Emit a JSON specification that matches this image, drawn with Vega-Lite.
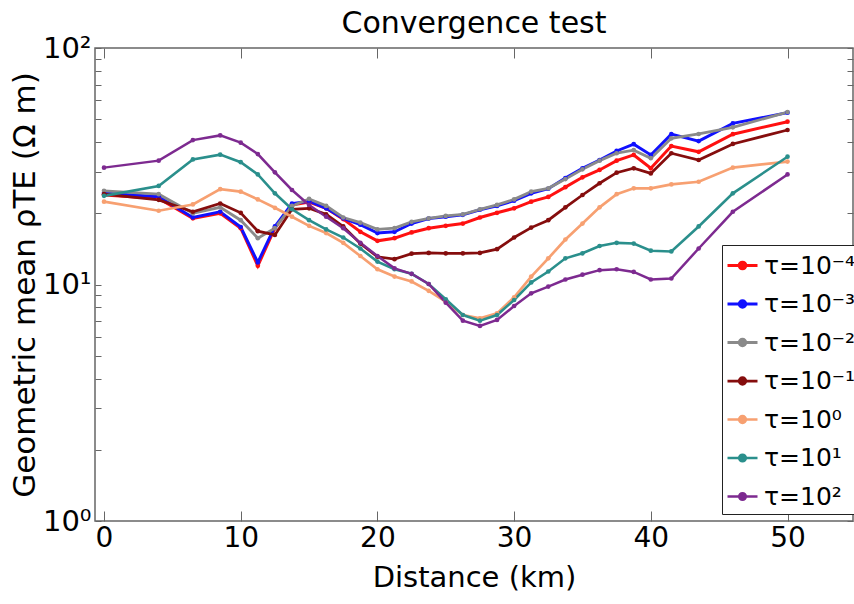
{
  "$schema": "https://vega.github.io/schema/vega-lite/v6.json",
  "width": 758,
  "height": 473,
  "autosize": "none",
  "padding": {"left": 95, "top": 48, "right": 1, "bottom": 83},
  "background": "white",
  "config": {
    "font": "DejaVu Sans",
    "view": {"stroke": "#666666", "strokeWidth": 1.5}
  },
  "title": {"text": "Convergence test", "fontSize": 30, "fontWeight": "normal", "color": "black", "offset": -5, "anchor": "middle"},
  "data": {
    "values": [
      {"d": 0, "τ=10⁻⁴": 23.9, "τ=10⁻³": 24.4, "τ=10⁻²": 24.9, "τ=10⁻¹": 24.1, "τ=10⁰": 22.4, "τ=10¹": 23.7, "τ=10²": 31.2},
      {"d": 4, "τ=10⁻⁴": 23.1, "τ=10⁻³": 23.5, "τ=10⁻²": 24.1, "τ=10⁻¹": 22.8, "τ=10⁰": 20.5, "τ=10¹": 26.1, "τ=10²": 33.4},
      {"d": 6.5, "τ=10⁻⁴": 19.05, "τ=10⁻³": 19.2, "τ=10⁻²": 20.0, "τ=10⁻¹": 20.3, "τ=10⁰": 21.8, "τ=10¹": 33.8, "τ=10²": 40.8},
      {"d": 8.5, "τ=10⁻⁴": 20.0, "τ=10⁻³": 20.3, "τ=10⁻²": 21.2, "τ=10⁻¹": 22.0, "τ=10⁰": 25.3, "τ=10¹": 35.4, "τ=10²": 42.7},
      {"d": 10, "τ=10⁻⁴": 17.3, "τ=10⁻³": 17.5, "τ=10⁻²": 18.7, "τ=10⁻¹": 20.1, "τ=10⁰": 24.7, "τ=10¹": 32.9, "τ=10²": 39.8},
      {"d": 11.25, "τ=10⁻⁴": 12.0, "τ=10⁻³": 12.4, "τ=10⁻²": 15.7, "τ=10⁻¹": 16.8, "τ=10⁰": 22.9, "τ=10¹": 29.2, "τ=10²": 35.6},
      {"d": 12.5, "τ=10⁻⁴": 17.3, "τ=10⁻³": 17.6, "τ=10⁻²": 17.3, "τ=10⁻¹": 16.2, "τ=10⁰": 21.1, "τ=10¹": 24.3, "τ=10²": 29.8},
      {"d": 13.75, "τ=10⁻⁴": 21.7, "τ=10⁻³": 22.0, "τ=10⁻²": 21.5, "τ=10⁻¹": 20.8, "τ=10⁰": 19.35, "τ=10¹": 20.8, "τ=10²": 25.1},
      {"d": 15, "τ=10⁻⁴": 22.3, "τ=10⁻³": 22.5, "τ=10⁻²": 23.0, "τ=10⁻¹": 21.0, "τ=10⁰": 17.7, "τ=10¹": 18.7, "τ=10²": 21.7},
      {"d": 16.25, "τ=10⁻⁴": 21.0, "τ=10⁻³": 21.0, "τ=10⁻²": 21.5, "τ=10⁻¹": 19.8, "τ=10⁰": 16.5, "τ=10¹": 17.1, "τ=10²": 19.35},
      {"d": 17.5, "τ=10⁻⁴": 18.9, "τ=10⁻³": 19.05, "τ=10⁻²": 19.2, "τ=10⁻¹": 17.6, "τ=10⁰": 15.0, "τ=10¹": 15.8, "τ=10²": 17.3},
      {"d": 18.75, "τ=10⁻⁴": 16.7, "τ=10⁻³": 17.9, "τ=10⁻²": 18.25, "τ=10⁻¹": 14.9, "τ=10⁰": 13.2, "τ=10¹": 14.2, "τ=10²": 15.0},
      {"d": 20, "τ=10⁻⁴": 15.3, "τ=10⁻³": 16.5, "τ=10⁻²": 17.1, "τ=10⁻¹": 13.1, "τ=10⁰": 11.6, "τ=10¹": 12.5, "τ=10²": 13.2},
      {"d": 21.25, "τ=10⁻⁴": 15.7, "τ=10⁻³": 16.7, "τ=10⁻²": 17.3, "τ=10⁻¹": 12.8, "τ=10⁰": 10.8, "τ=10¹": 11.6, "τ=10²": 11.7},
      {"d": 22.5, "τ=10⁻⁴": 16.6, "τ=10⁻³": 18.1, "τ=10⁻²": 18.4, "τ=10⁻¹": 13.5, "τ=10⁰": 10.3, "τ=10¹": 11.1, "τ=10²": 11.1},
      {"d": 23.75, "τ=10⁻⁴": 17.3, "τ=10⁻³": 19.0, "τ=10⁻²": 19.05, "τ=10⁻¹": 13.6, "τ=10⁰": 9.4, "τ=10¹": 10.05, "τ=10²": 10.05},
      {"d": 25, "τ=10⁻⁴": 17.7, "τ=10⁻³": 19.35, "τ=10⁻²": 19.5, "τ=10⁻¹": 13.55, "τ=10⁰": 8.46, "τ=10¹": 8.66, "τ=10²": 8.38},
      {"d": 26.25, "τ=10⁻⁴": 18.1, "τ=10⁻³": 19.7, "τ=10⁻²": 19.8, "τ=10⁻¹": 13.55, "τ=10⁰": 7.43, "τ=10¹": 7.43, "τ=10²": 7.03},
      {"d": 27.5, "τ=10⁻⁴": 19.2, "τ=10⁻³": 20.7, "τ=10⁻²": 20.8, "τ=10⁻¹": 13.6, "τ=10⁰": 7.2, "τ=10¹": 7.03, "τ=10²": 6.68},
      {"d": 28.75, "τ=10⁻⁴": 20.1, "τ=10⁻³": 21.5, "τ=10⁻²": 21.7, "τ=10⁻¹": 14.1, "τ=10⁰": 7.55, "τ=10¹": 7.43, "τ=10²": 7.08},
      {"d": 30, "τ=10⁻⁴": 21.0, "τ=10⁻³": 22.6, "τ=10⁻²": 22.9, "τ=10⁻¹": 15.8, "τ=10⁰": 8.83, "τ=10¹": 8.6, "τ=10²": 8.11},
      {"d": 31.25, "τ=10⁻⁴": 22.4, "τ=10⁻³": 24.3, "τ=10⁻²": 24.7, "τ=10⁻¹": 17.4, "τ=10⁰": 10.8, "τ=10¹": 10.2, "τ=10²": 9.18},
      {"d": 32.5, "τ=10⁻⁴": 23.45, "τ=10⁻³": 25.4, "τ=10⁻²": 25.5, "τ=10⁻¹": 18.7, "τ=10⁰": 12.9, "τ=10¹": 11.35, "τ=10²": 9.8},
      {"d": 33.75, "τ=10⁻⁴": 25.8, "τ=10⁻³": 28.2, "τ=10⁻²": 27.9, "τ=10⁻¹": 21.2, "τ=10⁰": 15.5, "τ=10¹": 12.9, "τ=10²": 10.5},
      {"d": 35, "τ=10⁻⁴": 28.4, "τ=10⁻³": 31.0, "τ=10⁻²": 30.7, "τ=10⁻¹": 23.9, "τ=10⁰": 18.1, "τ=10¹": 13.55, "τ=10²": 11.0},
      {"d": 36.25, "τ=10⁻⁴": 30.5, "τ=10⁻³": 33.6, "τ=10⁻²": 33.4, "τ=10⁻¹": 26.8, "τ=10⁰": 21.2, "τ=10¹": 14.55, "τ=10²": 11.5},
      {"d": 37.5, "τ=10⁻⁴": 33.4, "τ=10⁻³": 36.7, "τ=10⁻²": 35.9, "τ=10⁻¹": 29.7, "τ=10⁰": 24.1, "τ=10¹": 15.0, "τ=10²": 11.6},
      {"d": 38.75, "τ=10⁻⁴": 35.3, "τ=10⁻³": 39.2, "τ=10⁻²": 37.0, "τ=10⁻¹": 31.0, "τ=10⁰": 25.5, "τ=10¹": 14.9, "τ=10²": 11.3},
      {"d": 40, "τ=10⁻⁴": 31.0, "τ=10⁻³": 35.3, "τ=10⁻²": 34.2, "τ=10⁻¹": 29.5, "τ=10⁰": 25.5, "τ=10¹": 13.9, "τ=10²": 10.5},
      {"d": 41.5, "τ=10⁻⁴": 38.5, "τ=10⁻³": 43.2, "τ=10⁻²": 41.5, "τ=10⁻¹": 35.9, "τ=10⁰": 26.5, "τ=10¹": 13.8, "τ=10²": 10.6},
      {"d": 43.5, "τ=10⁻⁴": 36.4, "τ=10⁻³": 40.4, "τ=10⁻²": 43.3, "τ=10⁻¹": 33.6, "τ=10⁰": 27.2, "τ=10¹": 17.6, "τ=10²": 14.2},
      {"d": 46, "τ=10⁻⁴": 43.2, "τ=10⁻³": 48.0, "τ=10⁻²": 46.2, "τ=10⁻¹": 39.3, "τ=10⁰": 31.2, "τ=10¹": 24.3, "τ=10²": 20.3},
      {"d": 50, "τ=10⁻⁴": 48.8, "τ=10⁻³": 53.3, "τ=10⁻²": 53.6, "τ=10⁻¹": 45.0, "τ=10⁰": 33.1, "τ=10¹": 34.7, "τ=10²": 29.2}
    ]
  },
  "transform": [
    {"fold": ["τ=10⁻⁴", "τ=10⁻³", "τ=10⁻²", "τ=10⁻¹", "τ=10⁰", "τ=10¹", "τ=10²"], "as": ["tau", "rho"]}
  ],
  "layer": [
    {
      "mark": {"type": "line", "point": {"filled": true, "size": 22}, "clip": true},
      "encoding": {
        "x": {
          "field": "d", "type": "quantitative",
          "scale": {"domain": [-0.66, 54.79], "nice": false, "zero": false},
          "axis": {
            "values": [0, 10, 20, 30, 40, 50], "title": "Distance (km)", "titleFontSize": 29, "titleFontWeight": "normal", "titleColor": "black",
            "labelFontSize": 28, "labelColor": "black", "tickSize": -10, "tickColor": "#666666", "domain": false, "grid": false,
            "labelPadding": 13, "titlePadding": 11
          }
        },
        "y": {
          "field": "rho", "type": "quantitative",
          "scale": {"type": "log", "domain": [1, 100], "nice": false},
          "axis": {
            "values": [1, 2, 3, 4, 5, 6, 7, 8, 9, 10, 20, 30, 40, 50, 60, 70, 80, 90, 100],
            "labelExpr": "datum.value == 1 ? '10⁰' : datum.value == 10 ? '10¹' : datum.value == 100 ? '10²' : ''",
            "title": "Geometric mean ρTE (Ω m)", "titleFontSize": 31, "titleFontWeight": "normal", "titleColor": "black",
            "labelFontSize": 29, "labelColor": "black", "tickSize": -6, "tickColor": "#666666", "domain": false, "grid": false,
            "labelPadding": 10, "labelOverlap": false, "titlePadding": 1
          }
        },
        "color": {
          "field": "tau", "type": "nominal",
          "scale": {
            "domain": ["τ=10⁻⁴", "τ=10⁻³", "τ=10⁻²", "τ=10⁻¹", "τ=10⁰", "τ=10¹", "τ=10²"],
            "range": ["#ff1010", "#1010ff", "#8a8a8a", "#850d0d", "#f7a071", "#2a8f8c", "#7d2a90"]
          },
          "legend": {
            "title": null, "orient": "none", "legendX": 627, "legendY": 197,
            "labelFontSize": 25, "labelColor": "black", "symbolType": "M-1,0H1M-0.22,0a0.22,0.22 0 1,0 0.44,0a0.22,0.22 0 1,0 -0.44,0",
            "symbolSize": 900, "symbolStrokeWidth": 5, "rowPadding": 8.5, "padding": 4,
            "strokeColor": "#222222", "fillColor": "white", "labelOffset": 5
          }
        },
        "strokeWidth": {
          "field": "tau", "type": "nominal",
          "scale": {"domain": ["τ=10⁻⁴", "τ=10⁻³", "τ=10⁻²", "τ=10⁻¹", "τ=10⁰", "τ=10¹", "τ=10²"], "range": [3, 2.5, 3, 4, 2.5, 2, 2.5]},
          "legend": null
        }
      }
    },
    {
      "mark": {"type": "line", "opacity": 0},
      "encoding": {
        "x": {"field": "d", "type": "quantitative", "axis": {"orient": "top", "values": [0, 10, 20, 30, 40, 50], "labels": false, "title": null, "tickSize": -10, "tickColor": "#666666", "domain": false, "grid": false}},
        "y": {"field": "rho", "type": "quantitative", "axis": {"orient": "right", "values": [1, 2, 3, 4, 5, 6, 7, 8, 9, 10, 20, 30, 40, 50, 60, 70, 80, 90, 100], "labels": false, "title": null, "tickSize": -6, "tickColor": "#666666", "domain": false, "grid": false}},
        "detail": {"field": "tau"}
      }
    }
  ],
  "resolve": {"axis": {"x": "independent", "y": "independent"}}
}
